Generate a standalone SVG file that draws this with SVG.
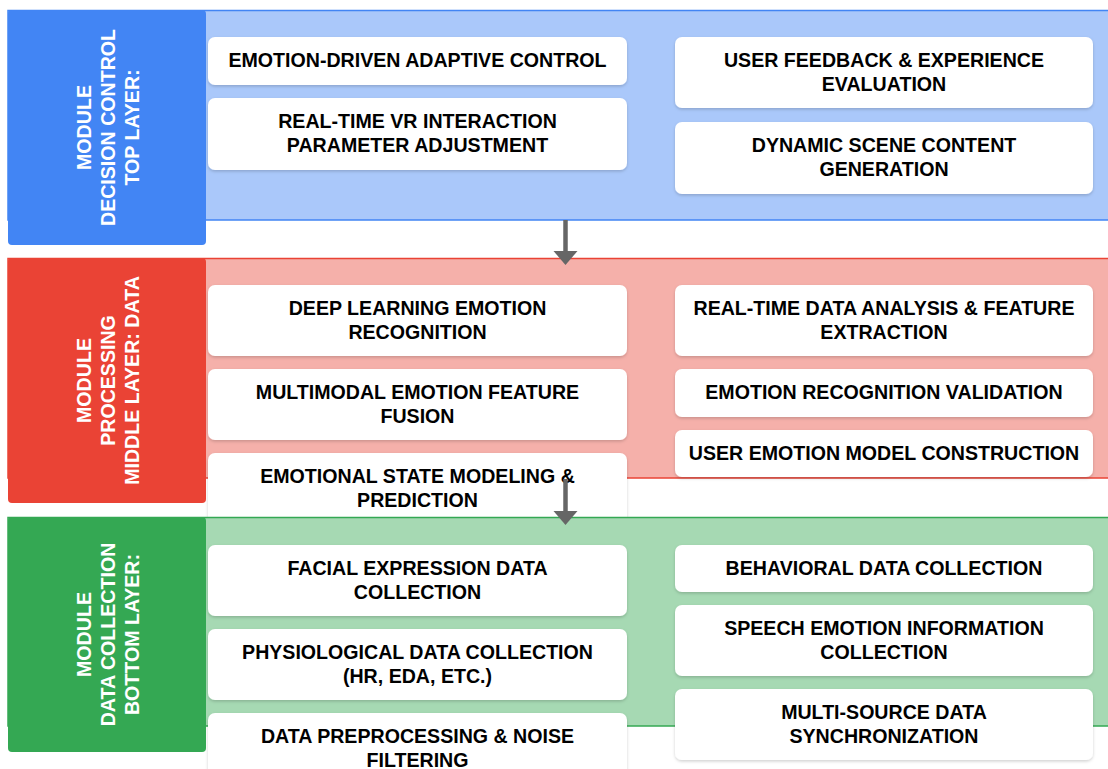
<svg xmlns="http://www.w3.org/2000/svg" width="1108" height="769" viewBox="0 0 1108 769">
<defs>
<style>
.nt{font-family:"Liberation Sans",Arial,sans-serif;font-weight:bold;font-size:19.6px;fill:#000;text-anchor:middle}
.lt{font-family:"Liberation Sans",Arial,sans-serif;font-weight:bold;font-size:19.6px;fill:#fff;text-anchor:middle}
.node{fill:#fff;filter:url(#sh)}
.conn{stroke:#666;stroke-width:4.5;fill:none}
.head{fill:#666}
</style>
<filter id="sh" x="-5%" y="-20%" width="110%" height="150%">
<feDropShadow dx="0" dy="1.5" stdDeviation="1.5" flood-color="#000" flood-opacity="0.18"/>
</filter>
</defs>
<rect width="1108" height="769" fill="#fff"/>

<g id="layer-top">
<rect x="8" y="10.5" width="1110" height="209.5" fill="#aac8fa" stroke="#4285f4" stroke-width="1.5"/>
<rect x="8" y="10" width="198" height="235" rx="4" fill="#4285f4"/>
<text class="lt" transform="translate(107,127.5) rotate(-90)"><tspan x="0" y="-16.5">MODULE</tspan><tspan x="0" y="7.5">DECISION CONTROL</tspan><tspan x="0" y="31.5">TOP LAYER:</tspan></text>
</g>
<g id="n1"><rect class="node" x="208" y="37" width="419" height="48" rx="7"/><text class="nt" x="417.5" y="67">EMOTION-DRIVEN ADAPTIVE CONTROL</text></g>
<g id="n2"><rect class="node" x="208" y="98" width="419" height="72" rx="7"/><text class="nt" x="417.5" y="128">REAL-TIME VR INTERACTION</text><text class="nt" x="417.5" y="152">PARAMETER ADJUSTMENT</text></g>
<g id="n3"><rect class="node" x="675" y="37" width="418" height="71" rx="7"/><text class="nt" x="884" y="67">USER FEEDBACK &amp; EXPERIENCE</text><text class="nt" x="884" y="91">EVALUATION</text></g>
<g id="n4"><rect class="node" x="675" y="122" width="418" height="72" rx="7"/><text class="nt" x="884" y="152">DYNAMIC SCENE CONTENT</text><text class="nt" x="884" y="176">GENERATION</text></g>

<g id="layer-middle">
<rect x="8" y="258.5" width="1110" height="219.5" fill="#f5b0aa" stroke="#ea4335" stroke-width="1.5"/>
<rect x="8" y="258" width="198" height="245" rx="4" fill="#ea4335"/>
<text class="lt" transform="translate(107,380.5) rotate(-90)"><tspan x="0" y="-16.5">MODULE</tspan><tspan x="0" y="7.5">PROCESSING</tspan><tspan x="0" y="31.5">MIDDLE LAYER: DATA</tspan></text>
</g>
<g id="n5"><rect class="node" x="208" y="285" width="419" height="71" rx="7"/><text class="nt" x="417.5" y="314.5">DEEP LEARNING EMOTION</text><text class="nt" x="417.5" y="338.5">RECOGNITION</text></g>
<g id="n6"><rect class="node" x="208" y="369" width="419" height="71" rx="7"/><text class="nt" x="417.5" y="398.5">MULTIMODAL EMOTION FEATURE</text><text class="nt" x="417.5" y="422.5">FUSION</text></g>
<g id="n7"><rect class="node" x="208" y="453" width="419" height="71" rx="7"/><text class="nt" x="417.5" y="482.5">EMOTIONAL STATE MODELING &amp;</text><text class="nt" x="417.5" y="506.5">PREDICTION</text></g>
<g id="n8"><rect class="node" x="675" y="285" width="418" height="71" rx="7"/><text class="nt" x="884" y="314.5">REAL-TIME DATA ANALYSIS &amp; FEATURE</text><text class="nt" x="884" y="338.5">EXTRACTION</text></g>
<g id="n9"><rect class="node" x="675" y="369" width="418" height="48" rx="7"/><text class="nt" x="884" y="399">EMOTION RECOGNITION VALIDATION</text></g>
<g id="n10"><rect class="node" x="675" y="430" width="418" height="47" rx="7"/><text class="nt" x="884" y="459.5">USER EMOTION MODEL CONSTRUCTION</text></g>

<g id="layer-bottom">
<rect x="8" y="517.5" width="1110" height="208.5" fill="#a6d9b3" stroke="#34a853" stroke-width="1.5"/>
<rect x="8" y="517" width="198" height="235" rx="4" fill="#34a853"/>
<text class="lt" transform="translate(107,634.5) rotate(-90)"><tspan x="0" y="-16.5">MODULE</tspan><tspan x="0" y="7.5">DATA COLLECTION</tspan><tspan x="0" y="31.5">BOTTOM LAYER:</tspan></text>
</g>
<g id="n11"><rect class="node" x="208" y="545" width="419" height="71" rx="7"/><text class="nt" x="417.5" y="574.5">FACIAL EXPRESSION DATA</text><text class="nt" x="417.5" y="598.5">COLLECTION</text></g>
<g id="n12"><rect class="node" x="208" y="629" width="419" height="71" rx="7"/><text class="nt" x="417.5" y="658.5">PHYSIOLOGICAL DATA COLLECTION</text><text class="nt" x="417.5" y="682.5">(HR, EDA, ETC.)</text></g>
<g id="n13"><rect class="node" x="208" y="713" width="419" height="71" rx="7"/><text class="nt" x="417.5" y="742.5">DATA PREPROCESSING &amp; NOISE</text><text class="nt" x="417.5" y="766.5">FILTERING</text></g>
<g id="n14"><rect class="node" x="675" y="545" width="418" height="47" rx="7"/><text class="nt" x="884" y="574.5">BEHAVIORAL DATA COLLECTION</text></g>
<g id="n15"><rect class="node" x="675" y="605" width="418" height="71" rx="7"/><text class="nt" x="884" y="634.5">SPEECH EMOTION INFORMATION</text><text class="nt" x="884" y="658.5">COLLECTION</text></g>
<g id="n16"><rect class="node" x="675" y="689" width="418" height="71" rx="7"/><text class="nt" x="884" y="718.5">MULTI-SOURCE DATA</text><text class="nt" x="884" y="742.5">SYNCHRONIZATION</text></g>

<g id="connectors">
<line class="conn" x1="565.5" y1="220" x2="565.5" y2="253"/>
<polygon class="head" points="553.5,251 577.5,251 565.5,265"/>
<line class="conn" x1="565.5" y1="479" x2="565.5" y2="513"/>
<polygon class="head" points="553.5,511 577.5,511 565.5,525"/>
</g>
</svg>
